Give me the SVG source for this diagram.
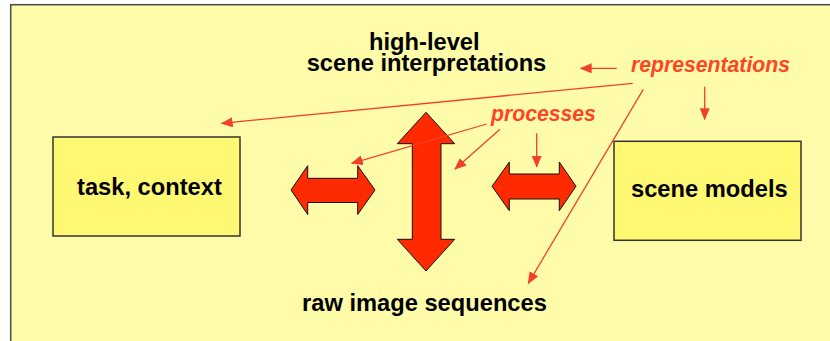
<svg xmlns="http://www.w3.org/2000/svg" width="830" height="341" viewBox="0 0 830 341">
<defs>
<style>
.bg{fill:#FFFCA9;stroke:#4a4a4a;stroke-width:1.5}
.box{fill:#FFF872;stroke:#333;stroke-width:1.5}
.big{fill:#FF2A00;stroke:#111;stroke-width:1}
.lbl{font-family:"Liberation Sans",Arial,sans-serif;font-weight:bold;font-size:23.7px;fill:#000}
.red{font-family:"Liberation Sans",Arial,sans-serif;font-weight:bold;font-style:italic;font-size:21.2px;fill:#FF4327}
.con{stroke:#F2402A;stroke-width:1.3;fill:none;marker-end:url(#ah)}
</style>
<marker id="ah" markerUnits="userSpaceOnUse" markerWidth="12" markerHeight="10" viewBox="0 0 12 10" refX="11" refY="5" orient="auto">
<path d="M0,0 L12,5 L0,10 z" fill="#F2402A"/>
</marker>
</defs>
<rect width="830" height="341" fill="#fff"/>
<rect class="bg" x="10.7" y="4.7" width="830" height="340"/>
<g id="title">
<text class="lbl"><tspan x="369" y="50">high-level</tspan><tspan x="306.7" y="71">scene interpretations</tspan></text>
</g>
<g id="task-context">
<rect class="box" x="53" y="137" width="187" height="99"/>
<text class="lbl" x="77" y="195">task, context</text>
</g>
<g id="scene-models">
<rect class="box" x="614" y="141.3" width="187" height="99"/>
<text class="lbl" x="631" y="197">scene models</text>
</g>
<g id="raw-image">
<text class="lbl" x="302" y="310.5">raw image sequences</text>
</g>
<g id="arrow-left">
<polygon class="big" points="291,190 307.7,165.7 307.7,178.3 357.7,178.3 357.7,165.7 375,190 357.7,214.5 357.7,202.5 307.7,202.5 307.7,214.5"/>
</g>
<g id="arrow-vertical">
<polygon class="big" points="426,112.3 454.7,143.7 441,143.7 441,239.3 454.7,239.3 426,271 397.3,239.3 412.3,239.3 412.3,143.7 397.3,143.7"/>
</g>
<g id="arrow-right">
<polygon class="big" points="492,186.3 509.3,162 509.3,174 559.3,174 559.3,162 576,186.3 559.3,210.7 559.3,199 509.3,199 509.3,210.7"/>
</g>
<g id="processes">
<text class="red" x="491" y="120.5">processes</text>
</g>
<g id="representations">
<text class="red" x="631" y="71.7">representations</text>
</g>
<g id="connectors">
<line class="con" x1="616.7" y1="68.3" x2="580.7" y2="68.3"/>
<line class="con" x1="632.7" y1="83.3" x2="221.7" y2="123.3"/>
<line class="con" x1="643.3" y1="89.3" x2="528.3" y2="283.3"/>
<line class="con" x1="704.7" y1="86.7" x2="704.7" y2="119.3"/>
<line class="con" x1="486.7" y1="124" x2="351.7" y2="163.3"/>
<line class="con" x1="500" y1="129.3" x2="455" y2="169"/>
<line class="con" x1="536.7" y1="133.3" x2="536.7" y2="166.7"/>
</g>
</svg>
